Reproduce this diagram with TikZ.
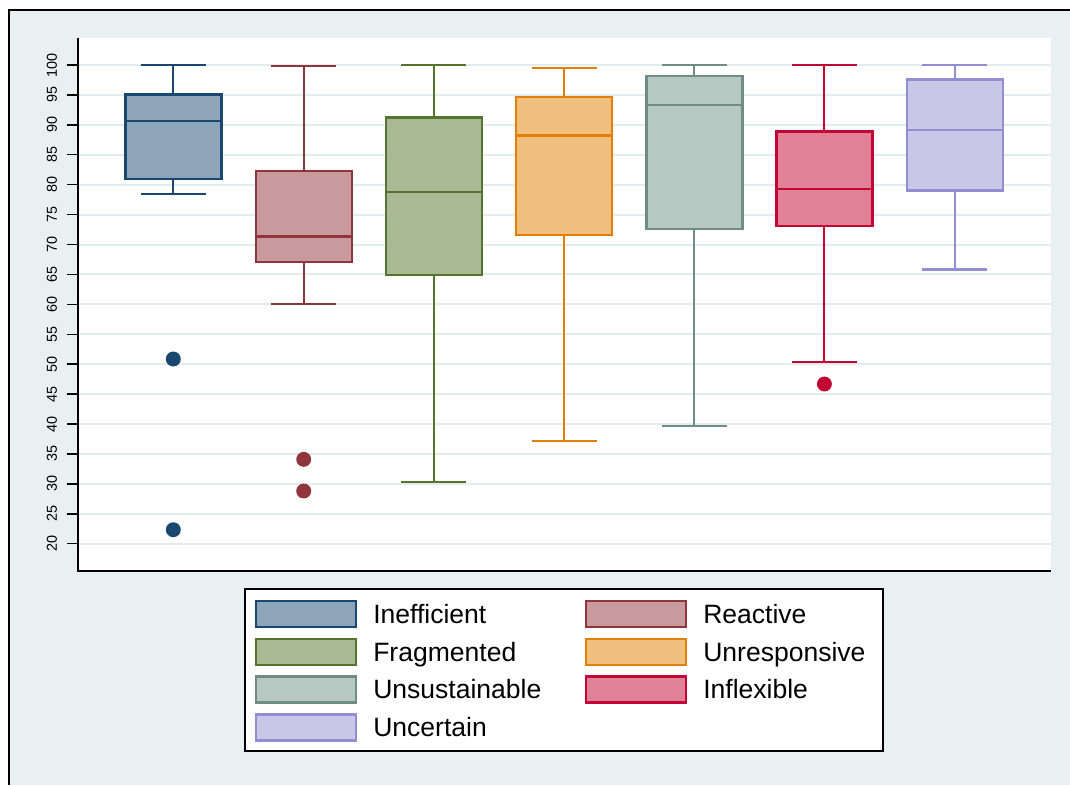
\documentclass[tikz,border=0pt]{standalone}
\usepackage{fontspec}
\setmainfont{Liberation Sans}
% line and fill colours of the seven groups
\definecolor{bgc}{RGB}{232,240,242}
\definecolor{gridc}{RGB}{226,236,239}
\definecolor{lnA}{RGB}{26,71,111}   \definecolor{fiA}{RGB}{141,164,185}
\definecolor{lnB}{RGB}{144,53,59}   \definecolor{fiB}{RGB}{200,153,157}
\definecolor{lnC}{RGB}{85,117,47}   \definecolor{fiC}{RGB}{170,185,149}
\definecolor{lnD}{RGB}{227,126,0}   \definecolor{fiD}{RGB}{240,190,127}
\definecolor{lnE}{RGB}{110,142,132} \definecolor{fiE}{RGB}{183,200,194}
\definecolor{lnF}{RGB}{193,5,52}    \definecolor{fiF}{RGB}{224,129,152}
\definecolor{lnG}{RGB}{147,141,210} \definecolor{fiG}{RGB}{202,198,232}
% box plot: centre x, low whisker, q1, median, q3, high whisker, line colour, fill colour
\newcommand\bxplot[8]{%
  \draw[#7, whisk] (#1,#2) -- (#1,#3) (#1,#5) -- (#1,#6);
  \draw[#7, whisk] ({#1-32.5},#2) -- ({#1+32.5},#2) ({#1-32.5},#6) -- ({#1+32.5},#6);
  \filldraw[draw=#7, fill=#8, boxline] ({#1-48},#3) rectangle ({#1+48},#5);
  \draw[#7, boxline] ({#1-48},#4) -- ({#1+48},#4);
}
\newcommand\outl[3]{\fill[#3] (#1,#2) circle (5.6pt);}
\begin{document}
\begin{tikzpicture}[x=0.75pt,y=-0.75pt,
  whisk/.style={line width=1.6pt},
  boxline/.style={line width=1.8pt},
  axisline/.style={line width=1.1pt, black},
  ticklab/.style={font=\fontsize{10.8pt}{12pt}\selectfont, rotate=90, inner sep=0pt},
  legtext/.style={font=\fontsize{19.9pt}{22pt}\selectfont, anchor=base west, inner sep=0pt},
  swatch/.style={line width=1.8pt}]
\useasboundingbox (0,0) rectangle (1070,785);
\fill[white] (0,0) rectangle (1070,785);
\fill[bgc] (9,10) rectangle (1070,785);
\draw[line width=1.5pt] (9,785) -- (9,10) -- (1070,10);
% plot region
\fill[white] (78,38) rectangle (1050.5,571);
\begin{scope}[shift={(0,663.4)}, y=4.488pt]
  \foreach \v in {20,25,...,100}{
    \draw[gridc, line width=1.5pt] (78,\v) -- (1050.5,\v);
    \draw[axisline] (67,\v) -- (78,\v);
    \node[ticklab] (ylab\v) at (52,\v) {\v};
  }
  \bxplot{173.3}{78.49}{80.9}{90.69}{95.1}{100}{lnA}{fiA}
  \outl{173.3}{50.87}{lnA}
  \outl{173.3}{22.34}{lnA}
  \bxplot{303.7}{60.06}{67.08}{71.31}{82.29}{99.83}{lnB}{fiB}
  \outl{303.7}{34.1}{lnB}
  \outl{303.7}{28.81}{lnB}
  \bxplot{433.9}{30.31}{64.86}{78.78}{91.26}{100}{lnC}{fiC}
  \bxplot{564.0}{37.17}{71.59}{88.19}{94.7}{99.55}{lnD}{fiD}
  \bxplot{694.3}{39.67}{72.6}{93.31}{98.21}{100}{lnE}{fiE}
  \bxplot{824.4}{50.32}{73.09}{79.28}{88.92}{100}{lnF}{fiF}
  \outl{824.4}{46.69}{lnF}
  \bxplot{954.7}{65.83}{79.0}{89.09}{97.61}{100}{lnG}{fiG}
\end{scope}
\draw[axisline] (78,38) -- (78,571) -- (1050.5,571);
% legend
\draw[line width=1.1pt, fill=white] (245,589) rectangle (883,751);
\foreach \lc/\fc/\xs/\yc/\lab in {
  lnA/fiA/256/613.7/Inefficient, lnB/fiB/586/613.7/Reactive,
  lnC/fiC/256/651.7/Fragmented, lnD/fiD/586/651.7/Unresponsive,
  lnE/fiE/256/689.5/Unsustainable, lnF/fiF/586/689.5/Inflexible,
  lnG/fiG/256/727.3/Uncertain}{
  \filldraw[swatch, draw=\lc, fill=\fc] (\xs,\yc-13) rectangle (\xs+100,\yc+13);
  \node[legtext] (leg\lab) at (\xs+117,\yc+9.3) {\lab};
}
\end{tikzpicture}
\end{document}
